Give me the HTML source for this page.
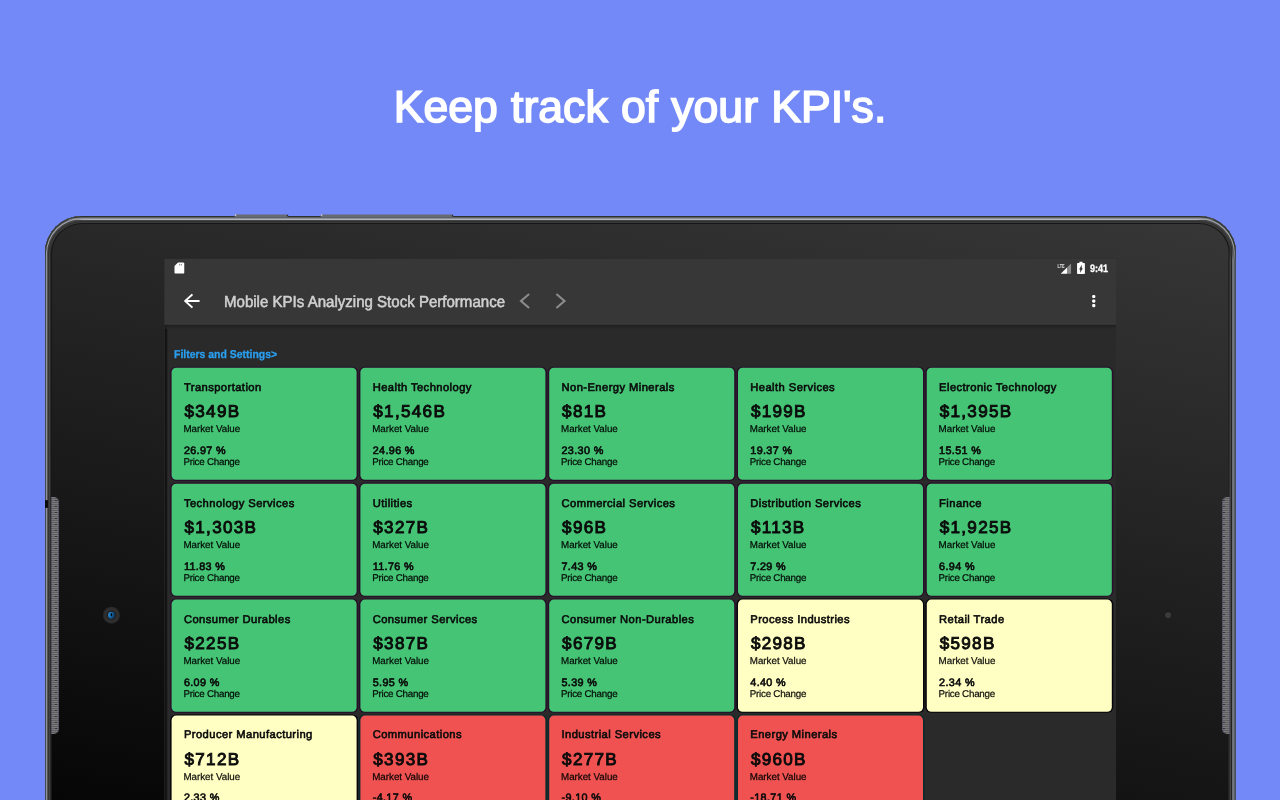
<!DOCTYPE html>
<html lang="en">
<head>
<meta charset="utf-8">
<title>Keep track of your KPI's.</title>
<style>
*{box-sizing:border-box;margin:0;padding:0}
html,body{width:1280px;height:800px;overflow:hidden}
body{background:#7289f7;font-family:"Liberation Sans",sans-serif;position:relative;text-rendering:geometricPrecision}
.headline{position:absolute;left:0;top:80px;width:1280px;text-align:center;color:#fff;font-size:44.6px;line-height:56px;white-space:nowrap;-webkit-text-stroke:1.6px #fff;letter-spacing:0px;word-spacing:0.8px;text-indent:0px}
.tablet{position:absolute;left:45px;top:216px;width:1191px;height:640px;border-radius:37px;background-size:100% 584px;background-repeat:no-repeat;
  background-image:linear-gradient(11.7deg,rgb(6,6,6),rgb(55,55,55));
  box-shadow:inset 0 0 0 1px #2e302c,inset 0 1px 0 1px #5c6068,inset 0 1px 0 2px #a4a8ae,inset 0 2px 0 3px #444,inset 0 2px 0 4px #303030,inset 0 2px 0 5px #3a3a3a,inset 0 1px 0 6px #2a2a2a,inset 0 1px 0 7px #171717}
.hl{position:absolute;left:66px;top:218px;width:1149px;height:2px;background:linear-gradient(#8a8e96 0,#8a8e96 1px,#b2b6ba 1px);-webkit-mask-image:linear-gradient(to right,transparent,#000 18px,#000 1131px,transparent);mask-image:linear-gradient(to right,transparent,#000 18px,#000 1131px,transparent)}
.rr{position:absolute;left:1228px;top:246px;width:8px;height:560px;background:linear-gradient(to right,#222 0,#222 1px,#303030 1px,#303030 2px,#444 2px,#444 3px,#222 3px,#222 4px,#6a6e76 4px,#6a6e76 5px,#747880 5px,#747880 6px,#5a5e64 6px,#5a5e64 7px,#4a4e56 7px);-webkit-mask-image:linear-gradient(to bottom,transparent,#000 14px);mask-image:linear-gradient(to bottom,transparent,#000 14px)}
.lr{position:absolute;left:45px;top:246px;width:7px;height:560px;background:linear-gradient(to right,#444a50 0,#444a50 1px,#8c9298 1px,#8c9298 2px,#555 2px,#555 3px,#333 3px,#333 4px,#444 4px,#444 5px,#2a2a2a 5px,#2a2a2a 6px,#181818 6px);-webkit-mask-image:linear-gradient(to bottom,transparent,#000 14px);mask-image:linear-gradient(to bottom,transparent,#000 14px)}
.spk{position:absolute;top:497px;width:8px;height:237px;background-color:#6a6a6d;background-image:repeating-linear-gradient(to bottom,rgba(20,20,40,.6) 0,rgba(20,20,40,.6) 1.5px,transparent 1.5px,transparent 6px),repeating-linear-gradient(to bottom,rgba(255,255,255,.1) 0,rgba(255,255,255,.1) 1px,rgba(0,0,0,.1) 1px,rgba(0,0,0,.1) 2px);background-size:2px 100%,100% 100%;background-repeat:no-repeat}
.spk.sl{left:51px;border-radius:0 5px 5px 0;background-position:4px 3px,0 0;box-shadow:inset 1px 0 0 rgba(40,40,90,.35),inset -1px 0 0 rgba(40,40,90,.35)}
.spk.sr{left:1222px;border-radius:5px 0 0 5px;background-position:1px 3px,0 0;box-shadow:inset 1px 0 0 rgba(40,40,90,.35),inset -1px 0 0 rgba(40,40,90,.35)}
.notch{position:absolute;left:45px;top:500px;width:2.5px;height:8px;background:#0c0c0c;border-radius:1px}
#gfx{position:absolute;left:0;top:0}
.screen{position:absolute;left:164px;top:258px;width:952px;height:542px;overflow:hidden}
.title{position:absolute;left:59.6px;top:35.4px;font-size:15.9px;line-height:20px;color:#d0d0d0;white-space:nowrap;-webkit-text-stroke:0.55px #d0d0d0;letter-spacing:0;transform:scaleX(.947);transform-origin:0 0}
.time{position:absolute;left:925.7px;top:5px;font-size:10.8px;line-height:13px;color:#fff;font-weight:bold;transform:scaleX(.84);transform-origin:0 0;-webkit-text-stroke:0.3px #fff}
.filters{position:absolute;left:9.8px;top:89.6px;font-size:11.4px;line-height:14px;color:#2a9ff0;font-weight:bold;white-space:nowrap;letter-spacing:0;transform:scaleX(.918);transform-origin:0 0;-webkit-text-stroke:0.3px #2a9ff0}
.card{position:absolute;width:185px;height:112px;color:#0b0b0b}
.card div{position:absolute;left:12.4px;white-space:nowrap}
.card .v{left:13px}
.card .l1,.card .l2{left:11.9px}
.t{top:13.1px;font-size:11.2px;line-height:14px;-webkit-text-stroke:0.6px #0b0b0b;letter-spacing:0.43px}
.v{top:33.3px;font-size:17.1px;line-height:22px;-webkit-text-stroke:0.9px #0b0b0b;letter-spacing:1.3px}
.l1{top:56.5px;font-size:9.8px;line-height:12px;color:rgba(0,0,0,.92);letter-spacing:-0.02px;-webkit-text-stroke:0.3px rgba(0,0,0,.7)}
.p{top:77.2px;font-size:10.8px;line-height:13px;-webkit-text-stroke:0.62px #0b0b0b;letter-spacing:0.36px}
.l2{top:89.1px;font-size:9.8px;line-height:12px;color:rgba(0,0,0,.92);letter-spacing:-0.25px;-webkit-text-stroke:0.3px rgba(0,0,0,.7)}
</style>
</head>
<body>
<div class="headline">Keep track of your KPI's.</div>
<div class="tablet"></div><div class="hl"></div><div class="rr"></div><div class="lr"></div>
<div class="spk sl"></div><div class="spk sr"></div><div class="notch"></div>

<svg id="gfx" width="1280" height="800" viewBox="0 0 1280 800">
<rect x="164.4" y="258.85" width="951.60" height="543.15" fill="#2a2a2a"/>
<rect x="165.00" y="324.65" width="1" height="480" fill="#111"/>
<rect x="166.00" y="324.65" width="1" height="480" fill="#161616"/>
<rect x="167.00" y="324.65" width="1" height="480" fill="#242424"/>
<rect x="164.4" y="324.65" width="951.60" height="1.9" fill="#202020"/>
<rect x="164.4" y="326.55" width="951.60" height="1" fill="#242424"/>
<rect x="164.4" y="327.55" width="951.60" height="1" fill="#282828"/>
<rect x="164.4" y="258.85" width="951.60" height="65.80" fill="#373737"/>
<rect x="164.4" y="323.05" width="951.60" height="1.3" fill="#3a3a3a"/>
<rect x="170.10" y="366.65" width="188.00" height="114.25" rx="6.10" ry="5.65" fill="#280e2a"/>
<rect x="171.60" y="367.70" width="185.00" height="112.15" rx="4.6" fill="#44c474"/>
<rect x="358.90" y="366.65" width="188.00" height="114.25" rx="6.10" ry="5.65" fill="#280e2a"/>
<rect x="360.40" y="367.70" width="185.00" height="112.15" rx="4.6" fill="#44c474"/>
<rect x="547.70" y="366.65" width="188.00" height="114.25" rx="6.10" ry="5.65" fill="#280e2a"/>
<rect x="549.20" y="367.70" width="185.00" height="112.15" rx="4.6" fill="#44c474"/>
<rect x="736.50" y="366.65" width="188.00" height="114.25" rx="6.10" ry="5.65" fill="#280e2a"/>
<rect x="738.00" y="367.70" width="185.00" height="112.15" rx="4.6" fill="#44c474"/>
<rect x="925.30" y="366.65" width="188.00" height="114.25" rx="6.10" ry="5.65" fill="#280e2a"/>
<rect x="926.80" y="367.70" width="185.00" height="112.15" rx="4.6" fill="#44c474"/>
<rect x="170.10" y="482.60" width="188.00" height="114.25" rx="6.10" ry="5.65" fill="#280e2a"/>
<rect x="171.60" y="483.65" width="185.00" height="112.15" rx="4.6" fill="#44c474"/>
<rect x="358.90" y="482.60" width="188.00" height="114.25" rx="6.10" ry="5.65" fill="#280e2a"/>
<rect x="360.40" y="483.65" width="185.00" height="112.15" rx="4.6" fill="#44c474"/>
<rect x="547.70" y="482.60" width="188.00" height="114.25" rx="6.10" ry="5.65" fill="#280e2a"/>
<rect x="549.20" y="483.65" width="185.00" height="112.15" rx="4.6" fill="#44c474"/>
<rect x="736.50" y="482.60" width="188.00" height="114.25" rx="6.10" ry="5.65" fill="#280e2a"/>
<rect x="738.00" y="483.65" width="185.00" height="112.15" rx="4.6" fill="#44c474"/>
<rect x="925.30" y="482.60" width="188.00" height="114.25" rx="6.10" ry="5.65" fill="#280e2a"/>
<rect x="926.80" y="483.65" width="185.00" height="112.15" rx="4.6" fill="#44c474"/>
<rect x="170.10" y="598.55" width="188.00" height="114.25" rx="6.10" ry="5.65" fill="#280e2a"/>
<rect x="171.60" y="599.60" width="185.00" height="112.15" rx="4.6" fill="#44c474"/>
<rect x="358.90" y="598.55" width="188.00" height="114.25" rx="6.10" ry="5.65" fill="#280e2a"/>
<rect x="360.40" y="599.60" width="185.00" height="112.15" rx="4.6" fill="#44c474"/>
<rect x="547.70" y="598.55" width="188.00" height="114.25" rx="6.10" ry="5.65" fill="#280e2a"/>
<rect x="549.20" y="599.60" width="185.00" height="112.15" rx="4.6" fill="#44c474"/>
<rect x="736.50" y="598.55" width="188.00" height="114.25" rx="6.10" ry="5.65" fill="#05050b"/>
<rect x="738.00" y="599.60" width="185.00" height="112.15" rx="4.6" fill="#fffec3"/>
<rect x="925.30" y="598.55" width="188.00" height="114.25" rx="6.10" ry="5.65" fill="#05050b"/>
<rect x="926.80" y="599.60" width="185.00" height="112.15" rx="4.6" fill="#fffec3"/>
<rect x="170.10" y="714.50" width="188.00" height="114.25" rx="6.10" ry="5.65" fill="#05050b"/>
<rect x="171.60" y="715.55" width="185.00" height="112.15" rx="4.6" fill="#fffec3"/>
<rect x="358.90" y="714.50" width="188.00" height="114.25" rx="6.10" ry="5.65" fill="#082a2c"/>
<rect x="360.40" y="715.55" width="185.00" height="112.15" rx="4.6" fill="#ef5250"/>
<rect x="547.70" y="714.50" width="188.00" height="114.25" rx="6.10" ry="5.65" fill="#082a2c"/>
<rect x="549.20" y="715.55" width="185.00" height="112.15" rx="4.6" fill="#ef5250"/>
<rect x="736.50" y="714.50" width="188.00" height="114.25" rx="6.10" ry="5.65" fill="#082a2c"/>
<rect x="738.00" y="715.55" width="185.00" height="112.15" rx="4.6" fill="#ef5250"/>
<defs>
  <radialGradient id="camring" cx="50%" cy="50%" r="50%"><stop offset="0" stop-color="#1c1c1c"/><stop offset="0.45" stop-color="#262626"/><stop offset="0.7" stop-color="#303030"/><stop offset="0.88" stop-color="#2a2a2a"/><stop offset="1" stop-color="#2c2c2c" stop-opacity="0"/></radialGradient>
  <linearGradient id="camlens" x1="0" y1="0" x2="1" y2="0.3"><stop offset="0" stop-color="#2a90dc"/><stop offset="0.5" stop-color="#186aa8"/><stop offset="1" stop-color="#0e3c64"/></linearGradient>
</defs>
<circle cx="111.45" cy="615.2" r="8.9" fill="url(#camring)"/>
<circle cx="111.45" cy="615.2" r="3.9" fill="#181210"/>
<circle cx="111.45" cy="615.2" r="3.45" fill="url(#camlens)"/>
<ellipse cx="111.4" cy="614.6" rx="0.65" ry="1.7" fill="#04060a"/>
<circle cx="1168.1" cy="614.7" r="3.5" fill="#161616"/>
<circle cx="1168.1" cy="615.05" r="3.15" fill="#3a3a3a"/>
<g id="buttons">
  <path fill="#676b71" d="M234.6 217V215.4Q234.6 214.5 235.8 214.5H287Q288.1 214.5 288.1 215.6V217Z"/>
  <rect x="234.8" y="214.3" width="1.6" height="1.5" rx="0.6" fill="#d8d8dc"/>
  <rect x="286.9" y="214.8" width="1.2" height="1.6" fill="#26282c"/>
  <path fill="#676b71" d="M320.6 217V215.4Q320.6 214.5 321.8 214.5H452Q453.1 214.5 453.1 215.6V217Z"/>
  <rect x="320.8" y="214.3" width="1.6" height="1.5" rx="0.6" fill="#d8d8dc"/>
  <rect x="451.9" y="214.8" width="1.2" height="1.6" fill="#26282c"/>
</g>
<g id="icons">
  <path fill="#fff" d="M178 262.4H183.05Q184.25 262.4 184.25 263.6V272.4Q184.25 273.6 183.05 273.6H175.7Q174.5 273.6 174.5 272.4V265.9Z"/>
  <path fill="#777" d="M179.2 264h0.9v1.5h-0.9zM180.9 264h0.9v1.5h-0.9z"/>
  <text x="1057.6" y="267.7" font-family="Liberation Sans, sans-serif" font-size="5.8" font-weight="bold" fill="#e4e4e4" textLength="6.9" lengthAdjust="spacingAndGlyphs">LTE</text>
  <path fill="#fff" d="M1060.7 273.8L1067 267.6V273.8z"/>
  <path fill="#8a8a8a" d="M1067 267.6L1071.05 263.6V273.8H1067z"/>
  <path fill="#fff" transform="translate(1077.05,261.7) scale(0.785,0.615) translate(-7,-2)" d="M15.67 4H14V2h-4v2H8.33C7.6 4 7 4.6 7 5.33v15.33C7 21.4 7.6 22 8.33 22h7.33c.74 0 1.34-.6 1.34-1.33V5.33C17 4.6 16.4 4 15.67 4zM11 20v-5.5H9.6L13 7v5.5h1.4L11 20z"/>
  <path fill="#fff" transform="translate(183.8,293.7) scale(0.985,0.915) translate(-4,-4)" d="M20 10.9H7.9l5.6-5.5L12 4l-8 8 8 8 1.5-1.4L7.9 13.1H20v-2.2z"/>
  <path fill="none" stroke="#8c8c8c" stroke-width="2.1" d="M529.1 294.05L521.0 301L529.1 307.95"/>
  <path fill="none" stroke="#8c8c8c" stroke-width="2.1" d="M556.4 294.05L564.5 301L556.4 307.95"/>
  <rect x="1092.15" y="294.9" width="3.2" height="3.2" rx="1.1" fill="#fff"/>
  <rect x="1092.15" y="299.45" width="3.2" height="3.2" rx="1.1" fill="#fff"/>
  <rect x="1092.15" y="304.0" width="3.2" height="3.2" rx="1.1" fill="#fff"/>
</g>
</svg>
<div class="screen">
  <div class="time">9:41</div>
  <div class="title">Mobile KPIs Analyzing Stock Performance</div>
  <div class="filters">Filters and Settings&gt;</div>
<div class="card" style="left:7.50px;top:109.70px"><div class="t">Transportation</div><div class="v">$349B</div><div class="l1">Market Value</div><div class="p">26.97 %</div><div class="l2">Price Change</div></div>
<div class="card" style="left:196.30px;top:109.70px"><div class="t">Health Technology</div><div class="v">$1,546B</div><div class="l1">Market Value</div><div class="p">24.96 %</div><div class="l2">Price Change</div></div>
<div class="card" style="left:385.10px;top:109.70px"><div class="t">Non-Energy Minerals</div><div class="v">$81B</div><div class="l1">Market Value</div><div class="p">23.30 %</div><div class="l2">Price Change</div></div>
<div class="card" style="left:573.90px;top:109.70px"><div class="t">Health Services</div><div class="v">$199B</div><div class="l1">Market Value</div><div class="p">19.37 %</div><div class="l2">Price Change</div></div>
<div class="card" style="left:762.70px;top:109.70px"><div class="t">Electronic Technology</div><div class="v">$1,395B</div><div class="l1">Market Value</div><div class="p">15.51 %</div><div class="l2">Price Change</div></div>
<div class="card" style="left:7.50px;top:225.70px"><div class="t">Technology Services</div><div class="v">$1,303B</div><div class="l1">Market Value</div><div class="p">11.83 %</div><div class="l2">Price Change</div></div>
<div class="card" style="left:196.30px;top:225.70px"><div class="t">Utilities</div><div class="v">$327B</div><div class="l1">Market Value</div><div class="p">11.76 %</div><div class="l2">Price Change</div></div>
<div class="card" style="left:385.10px;top:225.70px"><div class="t">Commercial Services</div><div class="v">$96B</div><div class="l1">Market Value</div><div class="p">7.43 %</div><div class="l2">Price Change</div></div>
<div class="card" style="left:573.90px;top:225.70px"><div class="t">Distribution Services</div><div class="v">$113B</div><div class="l1">Market Value</div><div class="p">7.29 %</div><div class="l2">Price Change</div></div>
<div class="card" style="left:762.70px;top:225.70px"><div class="t">Finance</div><div class="v">$1,925B</div><div class="l1">Market Value</div><div class="p">6.94 %</div><div class="l2">Price Change</div></div>
<div class="card" style="left:7.50px;top:341.70px"><div class="t">Consumer Durables</div><div class="v">$225B</div><div class="l1">Market Value</div><div class="p">6.09 %</div><div class="l2">Price Change</div></div>
<div class="card" style="left:196.30px;top:341.70px"><div class="t">Consumer Services</div><div class="v">$387B</div><div class="l1">Market Value</div><div class="p">5.95 %</div><div class="l2">Price Change</div></div>
<div class="card" style="left:385.10px;top:341.70px"><div class="t">Consumer Non-Durables</div><div class="v">$679B</div><div class="l1">Market Value</div><div class="p">5.39 %</div><div class="l2">Price Change</div></div>
<div class="card" style="left:573.90px;top:341.70px"><div class="t">Process Industries</div><div class="v">$298B</div><div class="l1">Market Value</div><div class="p">4.40 %</div><div class="l2">Price Change</div></div>
<div class="card" style="left:762.70px;top:341.70px"><div class="t">Retail Trade</div><div class="v">$598B</div><div class="l1">Market Value</div><div class="p">2.34 %</div><div class="l2">Price Change</div></div>
<div class="card" style="left:7.50px;top:457.70px"><div class="t" style="margin-top:-1px">Producer Manufacturing</div><div class="v">$712B</div><div class="l1">Market Value</div><div class="p" style="margin-top:-1px">2.33 %</div><div class="l2">Price Change</div></div>
<div class="card" style="left:196.30px;top:457.70px"><div class="t" style="margin-top:-1px">Communications</div><div class="v">$393B</div><div class="l1">Market Value</div><div class="p" style="margin-top:-1px">-4.17 %</div><div class="l2">Price Change</div></div>
<div class="card" style="left:385.10px;top:457.70px"><div class="t" style="margin-top:-1px">Industrial Services</div><div class="v">$277B</div><div class="l1">Market Value</div><div class="p" style="margin-top:-1px">-9.10 %</div><div class="l2">Price Change</div></div>
<div class="card" style="left:573.90px;top:457.70px"><div class="t" style="margin-top:-1px">Energy Minerals</div><div class="v">$960B</div><div class="l1">Market Value</div><div class="p" style="margin-top:-1px">-18.71 %</div><div class="l2">Price Change</div></div>
</div>
</body>
</html>
